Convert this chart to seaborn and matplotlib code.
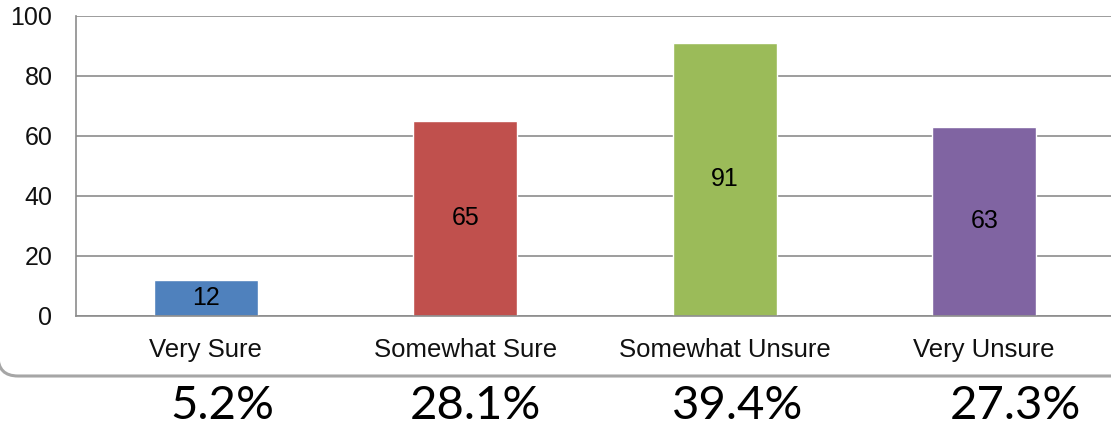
import matplotlib
matplotlib.use("Agg")
import matplotlib.pyplot as plt
import matplotlib.transforms as mtransforms
from matplotlib.path import Path
from matplotlib.patches import PathPatch
import seaborn as sns
import pandas as pd

categories = ["Very Sure", "Somewhat Sure", "Somewhat Unsure", "Very Unsure"]
counts = [12, 65, 91, 63]
percent_labels = ["5.2%", "28.1%", "39.4%", "27.3%"]
bar_colors = ["#4F81BD", "#C0504D", "#9BBB59", "#8064A2"]
y_ticks = [0, 20, 40, 60, 80, 100]

df = pd.DataFrame({"category": categories, "count": counts})

sns.set_style("white")
plt.rcParams["font.family"] = ["Liberation Sans", "DejaVu Sans"]

fig = plt.figure(figsize=(11.11, 4.25), dpi=100)
ax = fig.add_axes([0.0684, 0.2565, 0.9343, 0.7059])

sns.barplot(data=df, x="category", y="count", hue="category",
            palette=bar_colors, width=0.4, saturation=1, legend=False, ax=ax)

for c in ax.containers:
    ax.bar_label(c, label_type="center", fontsize=18, color="black")

ax.set_ylim(0, 100)
ax.set_xlim(-0.5, 3.5)
ax.set_yticks(y_ticks)
ax.yaxis.grid(True, color="#8C8C8C", linewidth=1.2)
ax.set_axisbelow(True)
ax.set_xlabel("")
ax.set_ylabel("")
ax.tick_params(axis="both", length=0, labelsize=18, colors="#111111")
ax.tick_params(axis="x", labelsize=18.5)
ax.tick_params(axis="y", pad=17)
ax.tick_params(axis="x", pad=16)
for side in ["top", "right"]:
    ax.spines[side].set_visible(False)
for side in ["left", "bottom"]:
    ax.spines[side].set_color("#8C8C8C")
    ax.spines[side].set_linewidth(1.2)

# chart frame: only the rounded bottom-left corner and bottom edge show (inches)
x0, y0, r = -0.02, 0.49, 0.2
verts = [(x0, 5.0), (x0, y0 + r), (x0, y0), (x0 + r, y0), (12.0, y0)]
codes = [Path.MOVETO, Path.LINETO, Path.CURVE3, Path.CURVE3, Path.LINETO]
frame = PathPatch(Path(verts, codes), transform=fig.dpi_scale_trans,
                  fill=False, edgecolor="#A6A6A6", linewidth=2.2)
fig.patches.append(frame)

# percentages under the chart
pct_offsets = [0.065, 0.04, 0.05, 0.12]
trans = mtransforms.blended_transform_factory(ax.transData, fig.transFigure)
for i, (lab, off) in enumerate(zip(percent_labels, pct_offsets)):
    ax.text(i + off, 0.045, lab, transform=trans, ha="center", va="center",
            fontsize=34, family=["Lato", "DejaVu Sans"], color="black",
            clip_on=False)

fig.savefig("out.png", dpi=100)
